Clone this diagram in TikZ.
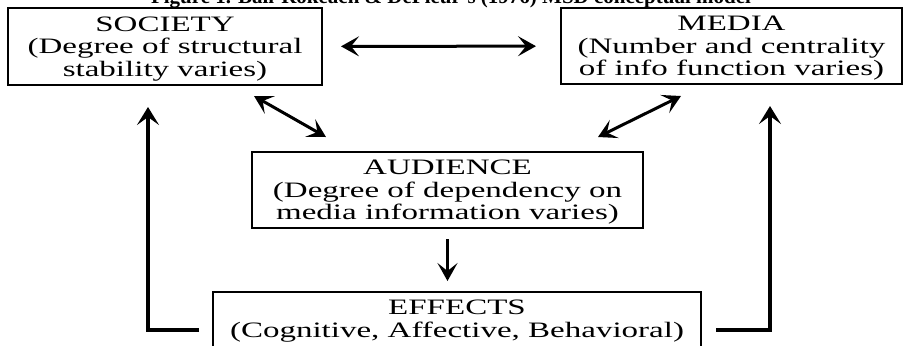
\documentclass[tikz,border=0pt]{standalone}
\usepackage{fontspec}
\setmainfont{Liberation Serif}
\newfontfamily\boxfont[FakeStretch=1.5]{Liberation Serif}
\usepackage{tikz}
\usetikzlibrary{arrows.meta, positioning}

\tikzset{
    box/.style={draw, line width=1pt, align=center, inner sep=0pt, text depth=-4pt,
        font=\boxfont\fontsize{11}{11.25}\selectfont},
    arr/.style={-{Stealth[length=9pt, width=10pt, inset=4pt]}, line width=1.5pt},
    dbl/.style={{Stealth[length=9pt, width=10pt, inset=4pt]}-{Stealth[length=9pt, width=10pt, inset=4pt]}, line width=1.5pt},
    loop/.style={-{Stealth[length=9pt, width=11pt, inset=4pt]}, line width=2pt}
}

\begin{document}
\begin{tikzpicture}[x=0.5pt, y=-0.5pt]
        \useasboundingbox (0, 0) rectangle (904, 345);

        \node[anchor=base, font=\bfseries\fontsize{10.5}{10.5}\selectfont] at (451, 3) (title)
            {Figure 1. Ball-Rokeach \& DeFleur's (1976) MSD conceptual model};

        \node[box, minimum width=157pt, minimum height=38.5pt] at (165, 46.5)  (society)
            {SOCIETY\\(Degree of structural\\stability varies)};
        \node[box, minimum width=170.5pt, minimum height=38pt] at (731.5, 46) (media)
            {MEDIA\\(Number and centrality\\of info function varies)};
        \node[box, minimum width=195.5pt, minimum height=38pt] at (447.5, 190) (audience)
            {AUDIENCE\\(Degree of dependency on\\media information varies)};
        \node[box, minimum width=244pt, minimum height=38pt] at (457, 330) (effects)
            {EFFECTS\\(Cognitive, Affective, Behavioral)\\\strut};

        \draw [dbl, shorten <=9pt, shorten >=12pt] (society) -- (media);
        \draw [dbl] ([shift={(-69,10)}]society.south east) -- ([shift={(75,-14)}]audience.north west);
        \draw [dbl] ([shift={(121,11)}]media.south west) -- ([shift={(-46,-14)}]audience.north east);
        \draw [arr, shorten <=5pt, shorten >=5pt] (audience.south) -- (audience.south |- effects.north);
        \draw [loop] ([xshift=-6.5pt]effects.west) -| ([shift={(-17,21)}]society.south);
        \draw [loop] ([xshift=7pt]effects.east) -| ([shift={(38.5,21)}]media.south);
    \end{tikzpicture}
\end{document}
